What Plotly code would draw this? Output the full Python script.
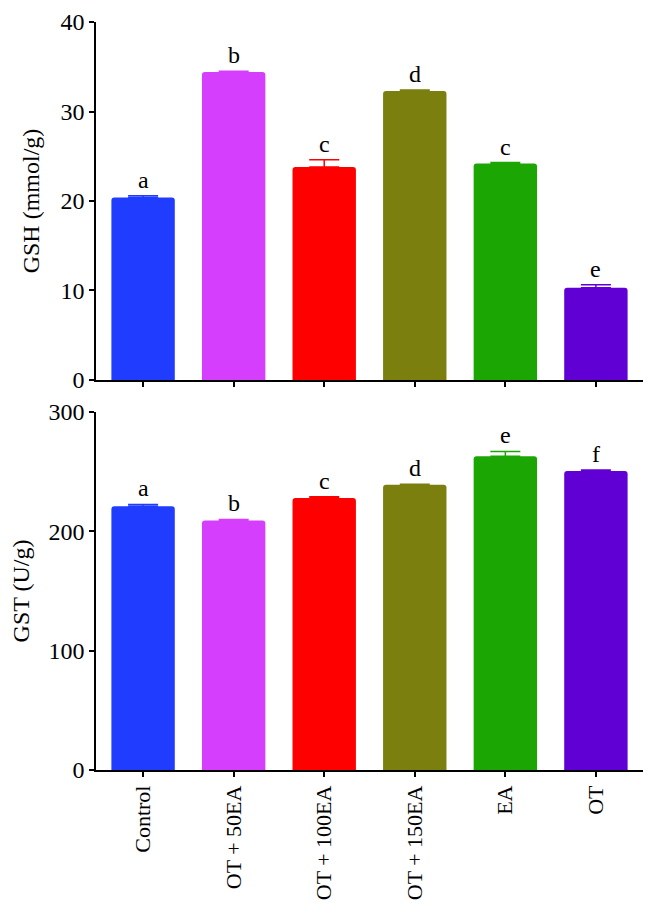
import plotly.graph_objects as go
from plotly.subplots import make_subplots

groups = ["Control", "OT + 50EA", "OT + 100EA", "OT + 150EA", "EA", "OT"]
colors = ["#1f3cff", "#d53efc", "#ff0000", "#7a7f0e", "#1ba604", "#6000d4"]

gsh_mean = [20.4, 34.4, 23.8, 32.3, 24.2, 10.3]
gsh_err = [0.2, 0.1, 0.8, 0.1, 0.1, 0.35]
gsh_letters = ["a", "b", "c", "d", "c", "e"]

gst_mean = [221, 209, 228, 239, 263, 250.5]
gst_err = [1.5, 1, 1, 0.5, 4, 1]
gst_letters = ["a", "b", "c", "d", "e", "f"]

FONT = "Liberation Serif"
FS = 24

fig = make_subplots(rows=2, cols=1, vertical_spacing=0.0428)

panels = [
    (1, gsh_mean, gsh_err, gsh_letters),
    (2, gst_mean, gst_err, gst_letters),
]
for row, mean, err, letters in panels:
    for i, g in enumerate(groups):
        fig.add_trace(
            go.Bar(
                x=[g],
                y=[mean[i]],
                width=0.7,
                marker=dict(color=colors[i], line=dict(width=0), cornerradius=3),
                error_y=dict(
                    type="data",
                    symmetric=False,
                    array=[err[i]],
                    arrayminus=[0],
                    color=colors[i],
                    thickness=1.5,
                    width=15,
                ),
                showlegend=False,
            ),
            row=row,
            col=1,
        )
        fig.add_annotation(
            x=g,
            y=mean[i] + err[i],
            text=letters[i],
            showarrow=False,
            yanchor="bottom",
            yshift=1,
            font=dict(family=FONT, size=FS, color="black"),
            row=row,
            col=1,
        )

axis_common = dict(
    showline=True,
    linecolor="black",
    linewidth=1.5,
    ticks="outside",
    ticklen=5,
    tickwidth=1.5,
    tickcolor="black",
    showgrid=False,
    zeroline=False,
    automargin=False,
    tickfont=dict(family=FONT, size=FS, color="black"),
)

fig.update_xaxes(**axis_common, range=[-0.52, 5.52], categoryorder="array",
                 categoryarray=groups)
fig.update_xaxes(showticklabels=False, row=1, col=1)
fig.update_xaxes(tickangle=-90, tickfont_size=22, row=2, col=1)

fig.update_yaxes(**axis_common)
fig.update_yaxes(range=[0, 40], dtick=10, row=1, col=1,
                 title=dict(text="GSH (mmol/g)", standoff=14,
                            font=dict(family=FONT, size=FS, color="black")))
fig.update_yaxes(range=[0, 300], dtick=100, row=2, col=1,
                 title=dict(text="GST (U/g)", standoff=14,
                            font=dict(family=FONT, size=FS, color="black")))

# page body adds an 8px margin, so the figure is a bit smaller than the window
fig.update_layout(
    width=641,
    height=900,
    margin=dict(l=88, r=6, t=14, b=138),
    plot_bgcolor="white",
    paper_bgcolor="white",
)

fig.write_html("out.html")
